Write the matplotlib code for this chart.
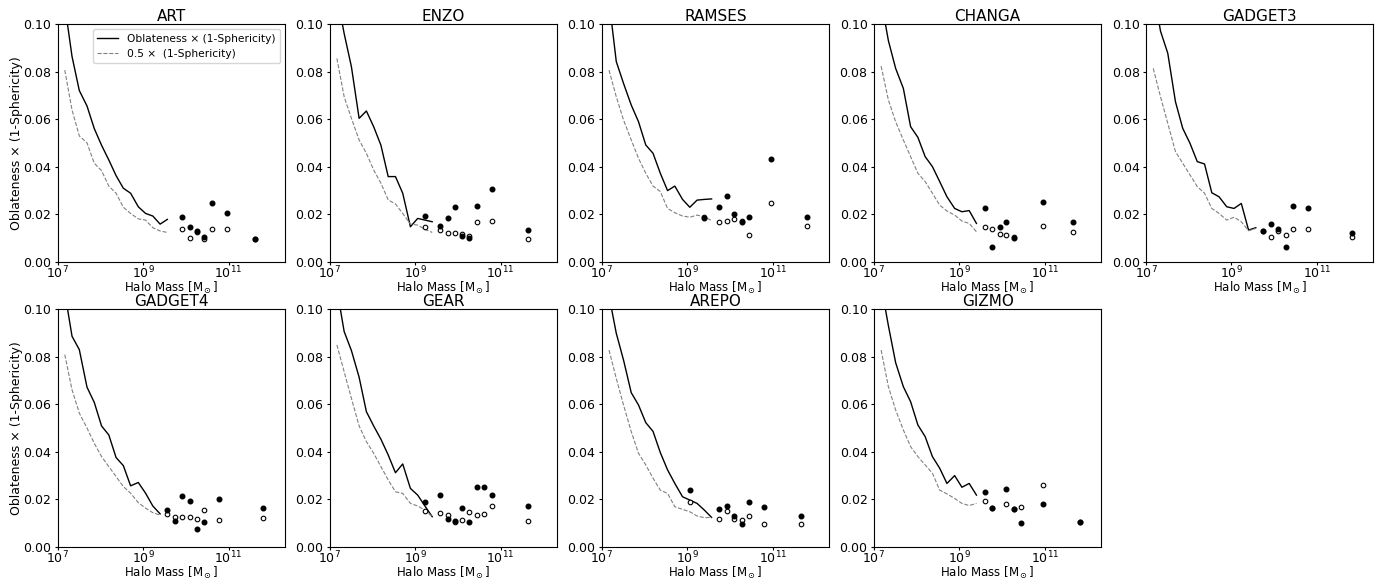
import matplotlib.pyplot as plt
import numpy as np
from matplotlib.ticker import NullLocator

codes = ['ART', 'ENZO', 'RAMSES', 'CHANGA', 'GADGET3',
         'GADGET4', 'GEAR', 'AREPO', 'GIZMO']

# log10 halo mass of the binned curves (each code uses the first N bins)
line_logm = [7.17, 7.34, 7.51, 7.69, 7.86, 8.03, 8.20, 8.37, 8.54, 8.71,
             8.89, 9.06, 9.23, 9.40, 9.57]

# Oblateness x (1-Sphericity), binned
obl_lines = [
    [0.108, 0.0863, 0.072, 0.0655, 0.056, 0.049, 0.0428, 0.0362, 0.0309, 0.0288, 0.0231, 0.0203, 0.0192, 0.0158, 0.0178],
    [0.112, 0.096, 0.082, 0.0603, 0.0634, 0.0568, 0.049, 0.0358, 0.0358, 0.0288, 0.0147, 0.0182, 0.0175, 0.0168],
    [0.11, 0.0842, 0.075, 0.0659, 0.0589, 0.0491, 0.0456, 0.0372, 0.0299, 0.0318, 0.0262, 0.0229, 0.0259, 0.0262, 0.0264],
    [0.11, 0.093, 0.0813, 0.0729, 0.0568, 0.0523, 0.0442, 0.040, 0.0337, 0.0273, 0.0224, 0.021, 0.0215, 0.0161],
    [0.115, 0.097, 0.0877, 0.0673, 0.0561, 0.0498, 0.0421, 0.0411, 0.029, 0.0273, 0.0231, 0.0224, 0.0245, 0.0133, 0.0143],
    [0.107, 0.0885, 0.0829, 0.0671, 0.0607, 0.0508, 0.047, 0.0375, 0.0341, 0.0256, 0.027, 0.0225, 0.0171, 0.0138],
    [0.1085, 0.0905, 0.0825, 0.0713, 0.0568, 0.0508, 0.0452, 0.0386, 0.0311, 0.0348, 0.0245, 0.0217, 0.0171, 0.0126],
    [0.1056, 0.0898, 0.0785, 0.0648, 0.0596, 0.0522, 0.0485, 0.0396, 0.0323, 0.0266, 0.021, 0.0196, 0.0182, 0.0154, 0.0123],
    [0.11, 0.093, 0.0774, 0.0673, 0.061, 0.0512, 0.0463, 0.0379, 0.033, 0.0266, 0.0299, 0.025, 0.0266, 0.0217],
]

# 0.5 x (1-Sphericity), binned
half_lines = [
    [0.0806, 0.0638, 0.0529, 0.050, 0.0414, 0.0383, 0.0318, 0.0288, 0.0229, 0.0203, 0.018, 0.0175, 0.0143, 0.0129, 0.0123],
    [0.0855, 0.0694, 0.0603, 0.0512, 0.0456, 0.0386, 0.033, 0.026, 0.0243, 0.0203, 0.0158, 0.0154, 0.0136, 0.0123],
    [0.0806, 0.0694, 0.0596, 0.0512, 0.0435, 0.0372, 0.0318, 0.0295, 0.0224, 0.0206, 0.0192, 0.0187, 0.0196, 0.0189, 0.0173],
    [0.0823, 0.068, 0.0589, 0.0512, 0.0442, 0.0372, 0.0337, 0.0288, 0.0238, 0.0213, 0.0196, 0.0171, 0.0161, 0.0126],
    [0.0813, 0.0694, 0.0582, 0.0463, 0.0414, 0.0365, 0.0316, 0.0288, 0.0224, 0.0203, 0.0175, 0.0187, 0.0168, 0.013, 0.014],
    [0.0808, 0.066, 0.0562, 0.0499, 0.0435, 0.0379, 0.0337, 0.0295, 0.0253, 0.0225, 0.0185, 0.0162, 0.0143, 0.0133],
    [0.0849, 0.0736, 0.0624, 0.0508, 0.0442, 0.0393, 0.0337, 0.0281, 0.0231, 0.0224, 0.0182, 0.0171, 0.0154, 0.0126],
    [0.0827, 0.0708, 0.0596, 0.0484, 0.0393, 0.0344, 0.0288, 0.0238, 0.0224, 0.0168, 0.0157, 0.0147, 0.0129, 0.0122, 0.0123],
    [0.0827, 0.0673, 0.0575, 0.0491, 0.0421, 0.0379, 0.0344, 0.0309, 0.0238, 0.0222, 0.0203, 0.0182, 0.0173, 0.0182],
]

# individual massive halos: log10 mass, filled = oblateness term, open = 0.5 term
halo_logm = [
    [9.92, 10.09, 10.26, 10.43, 10.61, 10.96, 11.63],
    [9.24, 9.59, 9.76, 9.94, 10.10, 10.27, 10.44, 10.79, 11.65],
    [9.40, 9.75, 9.92, 10.09, 10.27, 10.44, 10.95, 11.81],
    [9.59, 9.76, 9.94, 10.10, 10.28, 10.96, 11.66],
    [9.74, 9.92, 10.10, 10.27, 10.44, 10.78, 11.81],
    [9.57, 9.74, 9.91, 10.09, 10.26, 10.43, 10.77, 11.81],
    [9.24, 9.59, 9.76, 9.93, 10.10, 10.27, 10.44, 10.62, 10.79, 11.65],
    [9.06, 9.75, 9.92, 10.09, 10.27, 10.44, 10.79, 11.65],
    [9.59, 9.76, 10.10, 10.28, 10.45, 10.96, 11.83],
]
halo_obl = [
    [0.0187, 0.0147, 0.0129, 0.0102, 0.0245, 0.0206, 0.0094],
    [0.0192, 0.015, 0.0185, 0.0231, 0.0108, 0.0098, 0.0236, 0.0306, 0.0133],
    [0.0185, 0.0229, 0.0276, 0.0199, 0.0168, 0.0187, 0.0431, 0.0189],
    [0.0224, 0.0063, 0.0144, 0.0165, 0.0098, 0.025, 0.0168],
    [0.013, 0.0158, 0.0136, 0.0063, 0.0236, 0.0227, 0.0119],
    [0.0154, 0.011, 0.0214, 0.0191, 0.0073, 0.0105, 0.0201, 0.0164],
    [0.0189, 0.0217, 0.0118, 0.011, 0.0161, 0.0102, 0.0252, 0.0252, 0.0217, 0.0171],
    [0.0238, 0.016, 0.0171, 0.0129, 0.0094, 0.0187, 0.0167, 0.013],
    [0.0231, 0.0164, 0.0241, 0.0157, 0.0098, 0.0178, 0.0102],
]
halo_half = [
    [0.0139, 0.0101, 0.0123, 0.0097, 0.0136, 0.0139, 0.0094],
    [0.0147, 0.0133, 0.0119, 0.0122, 0.0116, 0.0108, 0.0168, 0.0173, 0.0095],
    [0.0187, 0.0168, 0.0173, 0.018, 0.0173, 0.0112, 0.0245, 0.0151],
    [0.0147, 0.0136, 0.0115, 0.0112, 0.0105, 0.015, 0.0126],
    [0.0129, 0.0105, 0.0129, 0.0112, 0.0137, 0.0137, 0.0105],
    [0.0136, 0.0126, 0.0126, 0.0124, 0.0115, 0.0154, 0.0112, 0.0119],
    [0.0151, 0.0143, 0.0133, 0.0102, 0.0112, 0.0147, 0.0133, 0.0137, 0.0172, 0.0109],
    [0.0189, 0.0118, 0.0149, 0.0118, 0.0112, 0.013, 0.0095, 0.0094],
    [0.0194, 0.0164, 0.0178, 0.0158, 0.0168, 0.0259, 0.0102],
]

fig, axes = plt.subplots(2, 5, figsize=(13.79, 5.78), dpi=100)
fig.subplots_adjust(left=0.0417, right=0.996, bottom=0.0542, top=0.9585,
                    wspace=0.196, hspace=0.199)

for i, ax in enumerate(axes.flat):
    if i >= len(codes):
        ax.remove()
        continue
    m = 10 ** np.array(line_logm[:len(obl_lines[i])])
    ax.plot(m, obl_lines[i], color='k', lw=1.0,
            label='Oblateness \u00d7 (1-Sphericity)')
    ax.plot(m, half_lines[i], '--', color='grey', lw=0.8,
            label='0.5 \u00d7  (1-Sphericity)')
    hm = 10 ** np.array(halo_logm[i])
    ax.plot(hm, halo_half[i], 'o', ls='none', ms=3.3, mfc='white', mec='k', mew=0.8)
    ax.plot(hm, halo_obl[i], 'o', ls='none', ms=3.3, color='k')

    ax.set_xscale('log')
    ax.set_xlim(1e7, 2.1e12)
    ax.set_ylim(0, 0.1)
    ax.set_xticks([1e7, 1e9, 1e11])
    ax.xaxis.set_minor_locator(NullLocator())
    ax.set_yticks([0, 0.02, 0.04, 0.06, 0.08, 0.10])
    ax.tick_params(labelsize=9)
    ax.tick_params(axis='x', length=2, pad=0.5)
    ax.tick_params(axis='y', length=2.5, pad=2)
    ax.set_title(codes[i], fontsize=11, pad=2.5)
    ax.set_xlabel(r'Halo Mass [M$_\odot$]', fontsize=8.5, labelpad=-1.6)
    if i % 5 == 0:
        ax.set_ylabel('Oblateness \u00d7 (1-Sphericity)', fontsize=9, labelpad=0.3)
    if i == 0:
        ax.legend(loc='upper right', fontsize=7.7)

fig.savefig('out.png', dpi=100)
